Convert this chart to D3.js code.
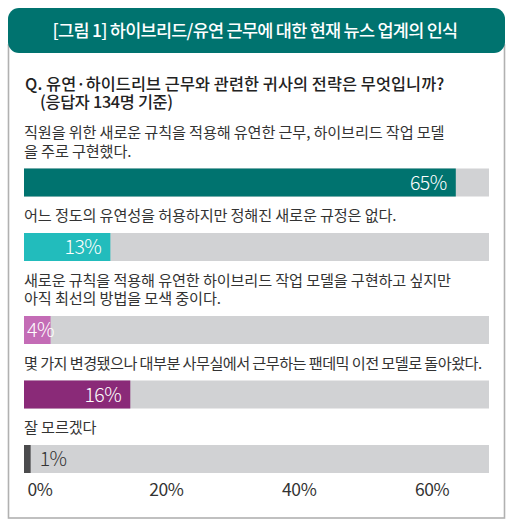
<!DOCTYPE html>
<html>
<head>
<meta charset="utf-8">
<script src="https://cdn.jsdelivr.net/npm/d3@7"></script>
<style>
  body { margin: 0; background: #fff; }
  svg text { font-family: "Noto Sans CJK KR", "Noto Sans", sans-serif; }
</style>
</head>
<body>
<div class="chart"></div>
<script>
// survey answers (one row per answer, label split into lines)
const answers = [
    ["직원을 위한 새로운 규칙을 적용해 유연한 근무, 하이브리드 작업 모델", "을 주로 구현했다."],
    ["어느 정도의 유연성을 허용하지만 정해진 새로운 규정은 없다."],
    ["새로운 규칙을 적용해 유연한 하이브리드 작업 모델을 구현하고 싶지만", "아직 최선의 방법을 모색 중이다."],
    ["몇 가지 변경됐으나 대부분 사무실에서 근무하는 팬데믹 이전 모델로 돌아왔다."],
    ["잘 모르겠다"]
];
const shares = [65, 13, 4, 16, 1];
const barColors = ["#00736f", "#22bcbc", "#c46cb6", "#8a2a78", "#4b4b4d"];
const tickValues = [0, 20, 40, 60];

const titleText = "[그림 1] 하이브리드/유연 근무에 대한 현재 뉴스 업계의 인식";
const questionLines = ["Q. 유연·하이드리브 근무와 관련한 귀사의 전략은 무엇입니까?", "(응답자 134명 기준)"];

const width = 515, height = 530;
const barH = 28, lineH = 18.5;
const maxLabelW = 458;

const svg = d3.select('.chart')
    .append('svg')
    .attr('width', width)
    .attr('height', height);

// outer box
svg.append('rect')
    .attr('x', 8.5).attr('y', 45)
    .attr('width', 496).attr('height', 473)
    .attr('fill', '#fff')
    .attr('stroke', '#b1b1b1')
    .attr('stroke-width', 1.6);

// header
svg.append('rect')
    .attr('x', 8).attr('y', 8)
    .attr('width', 497).attr('height', 45)
    .attr('rx', 11)
    .attr('fill', '#00736f');

svg.append('text')
    .attr('x', 255).attr('y', 37)
    .attr('text-anchor', 'middle')
    .attr('fill', '#fff')
    .attr('font-size', 17.5)
    .attr('font-weight', 500)
    .attr('letter-spacing', -0.75)
    .text(titleText);

// question, two lines in one text
svg.append('text')
    .attr('fill', '#222')
    .attr('font-size', 16.3)
    .attr('font-weight', 500)
    .selectAll('tspan')
    .data(questionLines)
    .enter()
    .append('tspan')
    .attr('x', (d, i) => i == 0 ? 25 : 40)
    .attr('y', (d, i) => 90 + i * 17.5)
    .attr('letter-spacing', (d, i) => i == 0 ? 0.1 : -0.3)
    .text(d => d);

const xScale = d3.scaleLinear()
    .domain([0, 70])
    .range([24, 489]);

// work out vertical layout from the number of label lines
let cursor = 138;
const rows = answers.map((lines, i) => {
    const row = {lines: lines, value: shares[i], color: barColors[i], labelY: cursor};
    row.barY = cursor + (lines.length - 1) * lineH + 12;
    cursor = row.barY + barH + 24.5;
    return row;
});
const axisY = cursor;

const g = svg.selectAll('.row')
    .data(rows)
    .enter()
    .append('g')
    .attr('class', 'row');

g.append('text')
    .attr('class', 'label')
    .attr('fill', '#333')
    .attr('font-size', 15.2)
    .attr('letter-spacing', -0.15)
    .each(function(d) {
        d3.select(this).selectAll('tspan')
            .data(d.lines)
            .enter()
            .append('tspan')
            .attr('x', 24)
            .attr('y', (t, j) => d.labelY + j * lineH)
            .text(t => t)
            .each(function() {
                // squeeze lines that run past the box
                if (this.getComputedTextLength() > maxLabelW) {
                    d3.select(this)
                        .attr('textLength', maxLabelW)
                        .attr('lengthAdjust', 'spacing');
                }
            });
    });

g.append('rect')
    .attr('x', xScale(0))
    .attr('y', d => d.barY)
    .attr('width', xScale(70) - xScale(0))
    .attr('height', barH)
    .attr('fill', '#d1d2d4');

g.append('rect')
    .attr('x', xScale(0))
    .attr('y', d => d.barY)
    .attr('width', d => xScale(d.value) - xScale(0))
    .attr('height', barH)
    .attr('fill', d => d.color);

g.append('text')
    .attr('class', 'value')
    .attr('x', d => d.value >= 10 ? xScale(d.value) - 9 : (d.value >= 3 ? xScale(0) + 3 : xScale(d.value) + 9))
    .attr('y', d => d.barY + 21)
    .attr('text-anchor', d => d.value >= 10 ? 'end' : 'start')
    .attr('fill', d => d.value >= 3 ? '#fff' : '#333')
    .attr('font-family', '"Open Sans", sans-serif')
    .attr('font-weight', 300)
    .attr('font-size', 19.5)
    .attr('letter-spacing', -0.5)
    .text(d => d.value + '%');

const xAxis = d3.axisBottom(xScale)
    .tickValues(tickValues)
    .tickSize(0)
    .tickPadding(0)
    .tickFormat(d => d + '%');

const axisG = svg.append('g')
    .attr('class', 'axis x-axis')
    .attr('transform', `translate(0, ${axisY - 14})`)
    .call(xAxis);

axisG.select('.domain').remove();
axisG.selectAll('text')
    .attr('fill', '#333')
    .attr('font-family', '"Open Sans", sans-serif')
    .attr('font-size', 17.5)
    .attr('font-weight', 400)
    .attr('letter-spacing', -0.4)
    .attr('text-anchor', d => d == 0 ? 'start' : 'middle')
    .attr('dx', d => d == 0 ? 3 : 9)
    .attr('dy', '0.71em');
</script>
</body>
</html>
